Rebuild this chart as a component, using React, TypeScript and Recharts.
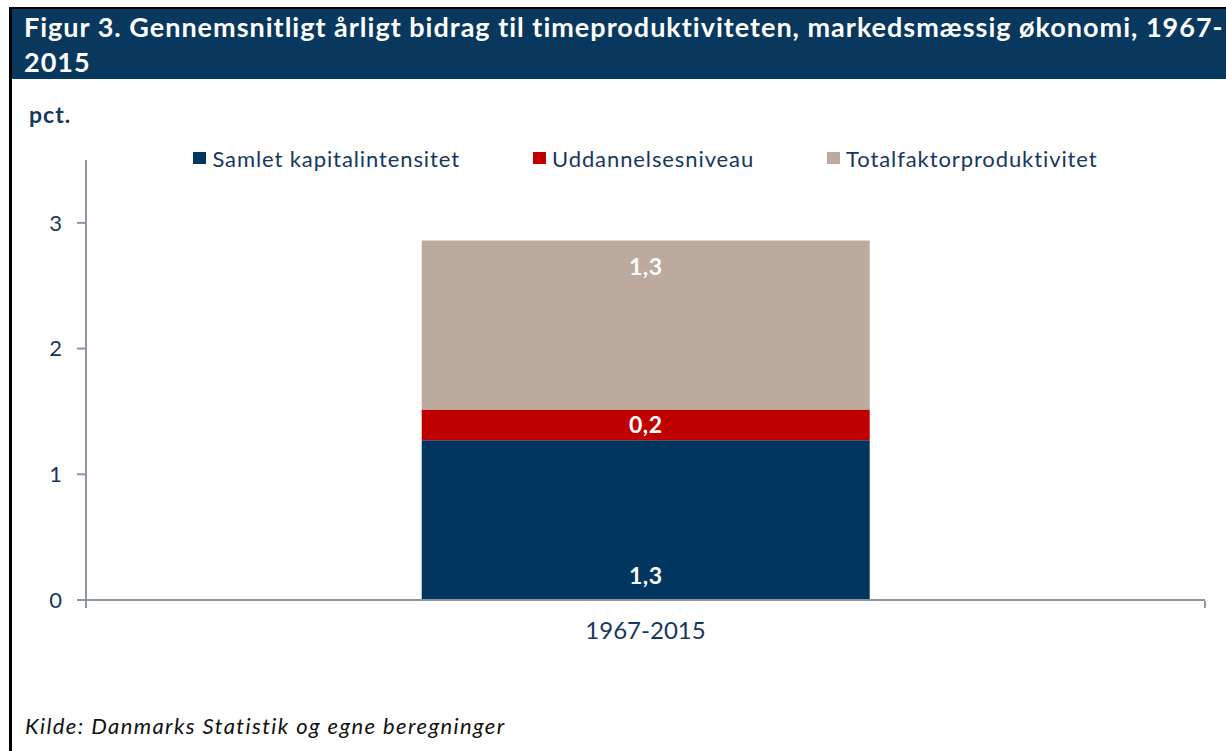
import React from 'react';
import { BarChart, Bar, XAxis, YAxis, Legend, LabelList } from 'recharts';

const categories = ['1967-2015'];
const kapital = [1.27];
const uddannelse = [0.245];
const tfp = [1.345];
const yTicks = [0, 1, 2, 3];
const seriesNames = ['Samlet kapitalintensitet', 'Uddannelsesniveau', 'Totalfaktorproduktivitet'];
const seriesKeys = ['kapital', 'uddannelse', 'tfp'];
const seriesColors = ['#003660', '#c00000', '#bcaa9f'];
const edgeTicks = [0, 1];

const data = categories.map((c, i) => ({
  name: c,
  kapital: kapital[i],
  uddannelse: uddannelse[i],
  tfp: tfp[i],
  edge: 0.5,
}));

const FONT = 'Lato, "Noto Sans", sans-serif';
const TEXT = '#17375e';
const AXIS = '#8e95a1';

const fmt = (v: any) => Number(v).toFixed(1).replace('.', ',');

const EmptyTick = () => <g />;

const LegendContent = () => (
  <div style={{ display: 'flex', justifyContent: 'center', alignItems: 'center', height: 30, fontFamily: FONT, fontSize: 22, letterSpacing: 0.9, color: TEXT }}>
    {seriesNames.map((n, i) => (
      <div key={n} style={{ display: 'flex', alignItems: 'center', marginLeft: i === 0 ? 0 : 73 }}>
        <span style={{ display: 'inline-block', width: 13, height: 12, background: seriesColors[i], marginRight: 6 }} />
        <span>{n}</span>
      </div>
    ))}
  </div>
);

export default function App() {
  return (
    <div style={{ position: 'fixed', left: 0, top: 0, width: 1226, height: 751, overflow: 'hidden', background: '#fff', fontFamily: FONT }}>
      <div style={{ position: 'absolute', left: 9, top: 7, width: 1217, height: 2, background: '#000' }} />
      <div style={{ position: 'absolute', left: 9, top: 7, width: 3, height: 744, background: '#000' }} />
      <div style={{ position: 'absolute', left: 12, top: 9, width: 1214, height: 70, background: '#08385d' }} />
      <div style={{ position: 'absolute', left: 24, top: 9, color: '#fff', fontWeight: 700, fontSize: 27, letterSpacing: 1, lineHeight: '35px', whiteSpace: 'nowrap' }}>
        Figur 3. Gennemsnitligt årligt bidrag til timeproduktiviteten, markedsmæssig økonomi, 1967-<br />2015
      </div>
      <div style={{ position: 'absolute', left: 29, top: 100, color: TEXT, fontWeight: 700, fontSize: 23, letterSpacing: 1, lineHeight: '28px' }}>pct.</div>
      <div style={{ position: 'absolute', left: 25, top: 712, color: '#111', fontStyle: 'italic', fontSize: 22, letterSpacing: 1.4, lineHeight: '28px', whiteSpace: 'nowrap' }}>
        Kilde: Danmarks Statistik og egne beregninger
      </div>
      <div style={{ position: 'absolute', left: 0, top: 0 }}>
        <BarChart width={1226} height={680} data={data} margin={{ top: 130, right: 21, left: 26, bottom: 40 }} barCategoryGap="30%">
          <Legend layout="vertical" align="center" verticalAlign="top" content={<LegendContent />} wrapperStyle={{ top: 143, left: 86, width: 1119 }} />
          <XAxis xAxisId="edge" dataKey="edge" type="number" domain={[0, 1]} ticks={edgeTicks} allowDataOverflow tick={EmptyTick} axisLine={false} tickLine={{ stroke: AXIS, strokeWidth: 2 }} tickSize={7} height={39} />
          <XAxis dataKey="name" axisLine={{ stroke: AXIS, strokeWidth: 2 }} tickLine={false} tickSize={0} tickMargin={22} height={1} tick={{ fill: TEXT, fontSize: 24, fontFamily: FONT }} />
          <YAxis domain={[0, 3.5]} ticks={yTicks} width={60} axisLine={{ stroke: AXIS, strokeWidth: 2 }} tickLine={{ stroke: AXIS, strokeWidth: 2 }} tickSize={9} tickMargin={15} tick={{ fill: TEXT, fontSize: 22, fontFamily: FONT }} />
          {seriesKeys.map((k, i) => (
            <Bar key={k} dataKey={k} name={seriesNames[i]} stackId="a" fill={seriesColors[i]} isAnimationActive={false}>
              <LabelList dataKey={k} formatter={fmt} position={i === 0 ? 'insideBottom' : i === 1 ? 'center' : 'insideTop'} offset={i === 0 ? 16 : 18} fill="#fff" style={{ fontSize: 23, fontWeight: 700, fontFamily: FONT, letterSpacing: 0.5 }} />
            </Bar>
          ))}
        </BarChart>
      </div>
    </div>
  );
}
